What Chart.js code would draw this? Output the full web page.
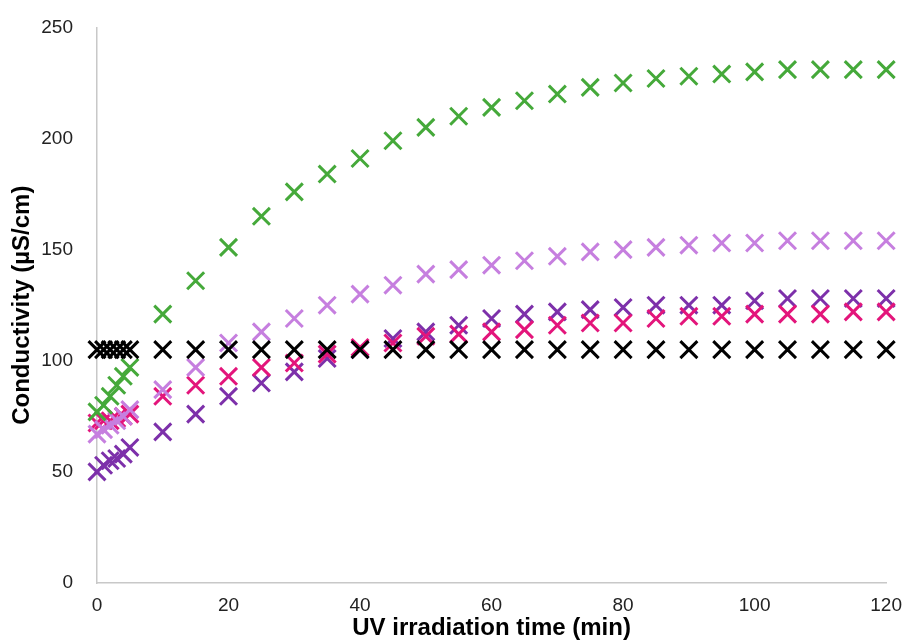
<!DOCTYPE html>
<html>
<head>
<meta charset="utf-8">
<script src="https://cdn.jsdelivr.net/npm/chart.js@4"></script>
<style>
    html, body { margin: 0; padding: 0; background: #fff; }
    #wrap { width: 905px; height: 640px; }
</style>
</head>
<body>
<div id="wrap"><canvas id="condChart"></canvas></div>
<script>
// UV irradiation time (min)
var times = [0, 1, 2, 3, 4, 5, 10, 15, 20, 25, 30, 35, 40, 45, 50, 55, 60, 65, 70, 75, 80, 85, 90, 95, 100, 105, 110, 115, 120];

// conductivity series (uS/cm)
var blackSeries    = [105, 105, 105, 105, 105, 105, 105, 105, 105, 105, 105, 105, 105, 105, 105, 105, 105, 105, 105, 105, 105, 105, 105, 105, 105, 105, 105, 105, 105];
var greenSeries    = [77, 80, 84, 89, 93, 97, 121, 136, 151, 165, 176, 184, 191, 199, 205, 210, 214, 217, 220, 223, 225, 227, 228, 229, 230, 231, 231, 231, 231];
var lavenderSeries = [67, 69, 71, 73, 75, 78, 87, 97, 108, 113, 119, 125, 130, 134, 139, 141, 143, 145, 147, 149, 150, 151, 152, 153, 153, 154, 154, 154, 154];
var pinkSeries     = [72, 73, 73, 74, 75, 76, 84, 89, 93, 97, 99, 103, 106, 108, 111, 112, 113, 114, 116, 117, 117, 119, 120, 120, 121, 121, 121, 122, 122];
var purpleSeries   = [50, 53, 55, 56, 58, 61, 68, 76, 84, 90, 95, 101, 105, 110, 113, 116, 119, 121, 122, 123, 124, 125, 125, 125, 127, 128, 128, 128, 128];

var yTicks = [0, 50, 100, 150, 200, 250];
var xTicks = [0, 20, 40, 60, 80, 100, 120];

function toPoints(values) {
    var pts = [];
    for (var i = 0; i < times.length; i++) {
        pts.push({ x: times[i], y: values[i] });
    }
    return pts;
}

function crossSet(values, color) {
    return {
        data: toPoints(values),
        showLine: false,
        clip: false,
        pointStyle: 'crossRot',
        pointRadius: 12,
        pointHoverRadius: 12,
        pointBorderWidth: 3,
        borderColor: color,
        backgroundColor: color
    };
}

var ctx = document.getElementById('condChart');
var condChart = new Chart(ctx, {
    type: 'scatter',
    data: {
        datasets: [
            crossSet(blackSeries, '#000000'),
            crossSet(greenSeries, '#45A93A'),
            crossSet(lavenderSeries, '#C67FDF'),
            crossSet(pinkSeries, '#E3157B'),
            crossSet(purpleSeries, '#7D30AA')
        ]
    },
    options: {
        responsive: true,
        maintainAspectRatio: false,
        animation: false,
        events: [],
        layout: {
            padding: { left: 8, top: 18, right: 17, bottom: 0 }
        },
        plugins: {
            legend: { display: false },
            tooltip: { enabled: false }
        },
        scales: {
            x: {
                type: 'linear',
                min: 0,
                max: 120,
                afterBuildTicks: function (scale) {
                    scale.ticks = xTicks.map(function (v) { return { value: v }; });
                },
                afterFit: function (scale) { scale.height = 57; },
                grid: { display: false },
                border: { display: true, color: '#c8c8c8', width: 1.5 },
                ticks: {
                    padding: 3,
                    color: '#222',
                    font: { family: 'Liberation Sans, Arial, sans-serif', size: 19 }
                },
                title: {
                    display: true,
                    text: 'UV irradiation time (min)',
                    color: '#000',
                    padding: { top: 0, bottom: 0 },
                    font: { family: 'Liberation Sans, Arial, sans-serif', size: 24, weight: 'bold', lineHeight: 1 }
                }
            },
            y: {
                type: 'linear',
                min: 0,
                max: 250,
                afterBuildTicks: function (scale) {
                    scale.ticks = yTicks.map(function (v) { return { value: v }; });
                },
                afterFit: function (scale) { scale.width = 89; },
                grid: { display: false },
                border: { display: true, color: '#c8c8c8', width: 1.5 },
                ticks: {
                    padding: 16,
                    color: '#222',
                    font: { family: 'Liberation Sans, Arial, sans-serif', size: 19 }
                },
                title: {
                    display: true,
                    text: 'Conductivity (µS/cm)',
                    align: 'center',
                    color: '#000',
                    padding: { top: 0, bottom: 0 },
                    font: { family: 'Liberation Sans, Arial, sans-serif', size: 24, weight: 'bold' }
                }
            }
        }
    }
});
</script>
</body>
</html>
